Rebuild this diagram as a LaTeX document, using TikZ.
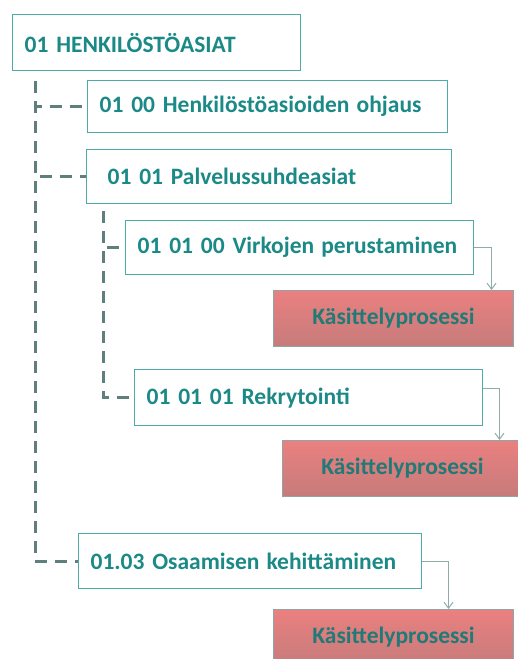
\documentclass[tikz,border=0pt]{standalone}
\usepackage{fontspec}
\setmainfont{Carlito}
\usetikzlibrary{arrows.meta}
\definecolor{tealtext}{HTML}{1B8A87}
\definecolor{tealline}{HTML}{4DAAA7}
\definecolor{treeline}{HTML}{5F7F7C}
\definecolor{flowline}{HTML}{8FABAA}
\definecolor{redtop}{HTML}{EB8080}
\definecolor{redbot}{HTML}{C67B7B}
\definecolor{redtext}{HTML}{1F7A78}
\begin{document}
\begin{tikzpicture}[x=1pt, y=-1pt, >={Straight Barb[length=6pt,width=9pt]}]
        \tikzstyle{entry}=[draw=tealline, line width=1.2pt, fill=white, anchor=north west, align=left, inner xsep=12pt, inner ysep=0pt, text=tealtext, font=\fontsize{23.5}{28}\selectfont\bfseries]
        \tikzstyle{process}=[draw=treeline!70, line width=1pt, top color=redtop, bottom color=redbot, anchor=north west, minimum width=240pt, minimum height=56pt, text=redtext, font=\fontsize{23.5}{28}\selectfont\bfseries]
        \tikzstyle{tree}=[draw=treeline, line width=3pt, dash pattern=on 12pt off 8pt]
        \tikzstyle{flow}=[draw=flowline, line width=1pt, ->]

        \clip (0,0) rectangle (518,659);
        \fill[white] (0,0) rectangle (518,659);

        \node[entry, text width=264pt, minimum height=56pt](hr) at (12,14){01 HENKILÖSTÖASIAT};
        \node[entry, text width=336pt, minimum height=52pt](ohjaus) at (87,80){\mbox{01 00 Henkilöstöasioiden\hspace{0.3em}ohjaus}};
        \node[entry, text width=323pt, minimum height=54pt, inner xsep=21pt](palvelus) at (86,149){01 01 Palvelussuhdeasiat};
        \node[entry, text width=324pt, minimum height=54pt](virka) at (125,220){\mbox{01 01 00 Virkojen\hspace{0.3em}perustaminen}};
        \node[process](kp1) at (273,290){Käsittelyprosessi};
        \node[entry, text width=324pt, minimum height=56pt](rekry) at (134,369){01 01 01 Rekrytointi};
        \node[process](kp2) at (282,440){Käsittelyprosessi};
        \node[entry, text width=319pt, minimum height=55pt](osaaminen) at (78,533){\mbox{01.03 Osaamisen\hspace{0.3em}kehittäminen}};
        \node[process](kp3) at (273,609){Käsittelyprosessi};

        \draw[tree] ([xshift=23pt,yshift=-10pt]hr.south west) |- (ohjaus.west);
        \draw[tree] ([xshift=23pt,yshift=-10pt]hr.south west) |- (palvelus.west);
        \draw[tree] ([xshift=23pt,yshift=-10pt]hr.south west) |- (osaaminen.west);
        \draw[tree] ([xshift=17pt,yshift=-7pt]palvelus.south west) |- (virka.west);
        \draw[tree] ([xshift=17pt,yshift=-7pt]palvelus.south west) |- (rekry.west);

        \draw[flow] (virka.east) -| ([xshift=98pt]kp1.north);
        \draw[flow] ([yshift=9pt]rekry.east) -| ([xshift=97pt]kp2.north);
        \draw[flow] (osaaminen.east) -| ([xshift=55pt]kp3.north);
        \end{tikzpicture}
\end{document}
